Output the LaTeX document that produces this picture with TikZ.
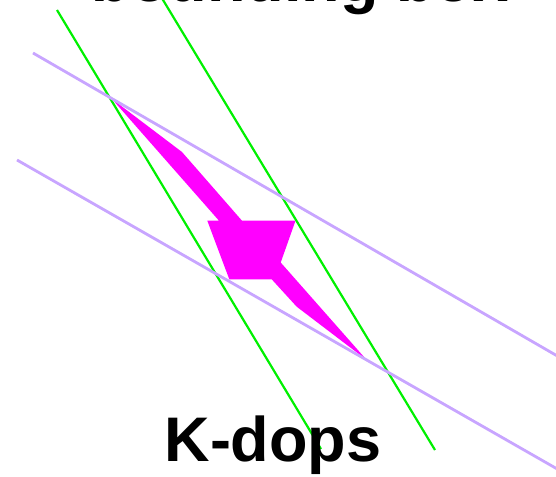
\documentclass[tikz,border=0pt]{standalone}
\usepackage{fontspec}
\setmainfont{Liberation Sans}
\usetikzlibrary{positioning}
\definecolor{kgreen}{RGB}{0,240,0}
\definecolor{kpurple}{RGB}{200,165,255}
\definecolor{kmagenta}{RGB}{255,0,255}

\begin{document}
\begin{tikzpicture}[x=1pt,y=-1pt,
    greenline/.style={draw=kgreen, line width=2.2pt},
    purpleline/.style={draw=kpurple, line width=2.8pt},
    label/.style={font=\fontsize{63}{63}\selectfont\bfseries, anchor=base, inner sep=0pt}]
    \useasboundingbox (0,0) rectangle (556,476);
    \clip (0,0) rectangle (556,476);

    % Shape
    \fill[kmagenta] (112,99) -- (182,152) -- (242,220.7) -- (295.5,220.7)
        -- (280.7,262.5) -- (366.7,360) -- (296.7,306.7) -- (271.7,279.3)
        -- (229.3,279.3) -- (207.3,220.7) -- (219,220.7) -- cycle;

    % Line ends
    \coordinate (g1a) at (57,10);
    \coordinate (g1b) at (321,449);
    \coordinate (g2a) at (160,-5);
    \coordinate (g2b) at (435,450);
    \coordinate (p1a) at (33,53);
    \coordinate (p1b) at (566,361);
    \coordinate (p2a) at (17,160);
    \coordinate (p2b) at (566,474);

    % Lines
    \draw[greenline] (g1a) -- (g1b);
    \draw[greenline] (g2a) -- (g2b);
    \draw[purpleline] (p1a) -- (p1b);
    \draw[purpleline] (p2a) -- (p2b);

    % Labels
    \node (top) [label] at (300,2) {bounding box};
    \node (kdops) [label] at (273,461) {K-dops};
\end{tikzpicture}
\end{document}
